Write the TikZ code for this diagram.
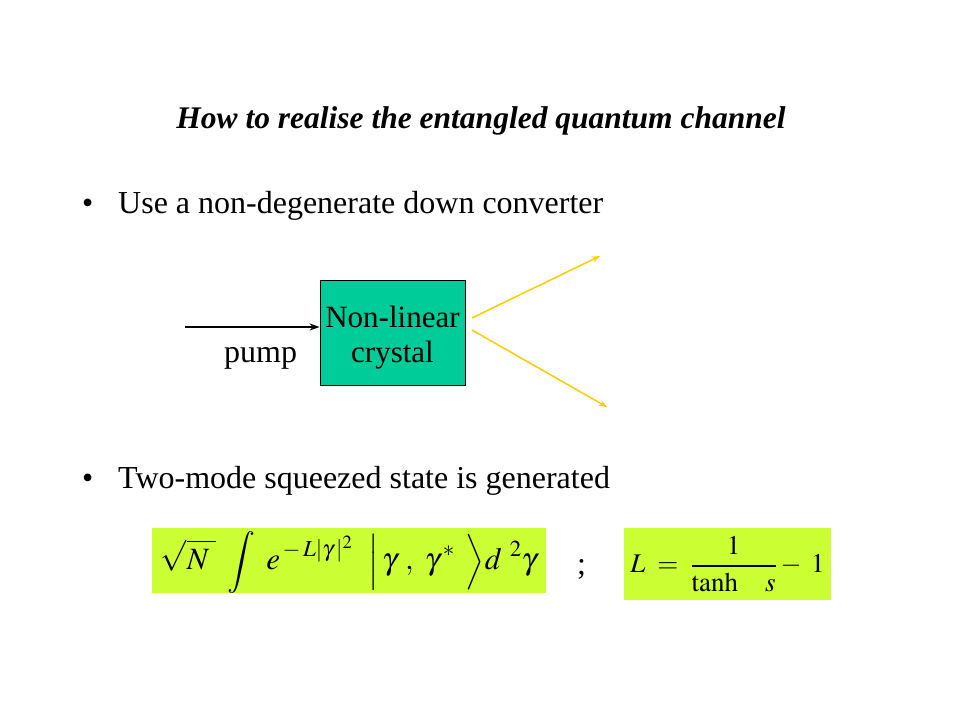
\documentclass[tikz,border=0pt]{standalone}
\usepackage{mathptmx}
\usepackage{fontspec}
\setmainfont{Liberation Serif}
\usetikzlibrary{arrows.meta}
\definecolor{crystal}{RGB}{0,204,153}
\definecolor{beam}{RGB}{255,204,0}
\definecolor{formulabg}{RGB}{204,255,51}
\tikzset{
  body/.style={font=\fontsize{32}{36}\selectfont, inner sep=0pt, anchor=base west},
  crystalbox/.style={draw=black, fill=crystal, line width=0.8pt, minimum width=145pt, minimum height=105pt, inner sep=0pt},
  boxtext/.style={inner sep=0pt, align=center, font=\fontsize{31}{35}\selectfont},
  beamline/.style={draw=beam, line width=1.5pt, -{Stealth[length=8pt,width=6pt]}},
  formula/.style={fill=formulabg, inner sep=0pt},
}
\begin{document}
\begin{tikzpicture}[x=1pt,y=-1pt]
\useasboundingbox (0,0) rectangle (960,720);
\fill[white] (0,0) rectangle (960,720);
\node[inner sep=0pt, anchor=base, font=\fontsize{31.5}{36}\selectfont\bfseries\itshape] (title) at (481,128) {How to realise the entangled quantum channel};
\node[body] (b1) at (82,213) {•};
\node[body] (t1) at (118,213) {Use a non-degenerate down converter};
\node[crystalbox] (box) at (392.5,332.5) {};
\node[boxtext] (boxlabel) at (392.5,337.5) {Non-linear\\ crystal};
\coordinate (pumpstart) at (185,327);
\draw[line width=1.5pt, -{Stealth[length=10pt,width=7pt]}] (pumpstart) -- (box.west |- pumpstart);
\node[body] (pump) at (224,362) {pump};
\coordinate (outa) at (472,318);
\coordinate (outb) at (472,330);
\coordinate (enda) at (600,256);
\coordinate (endb) at (607,407);
\draw[beamline] (outa) -- (enda);
\draw[beamline] (outb) -- (endb);
\node[body] (b2) at (82,488) {•};
\node[body] (t2) at (118,488) {Two-mode squeezed state is generated};
\node[formula, minimum width=394pt, minimum height=65pt] (f1) at (349,560.5) {};
\node[inner sep=0pt, font=\fontsize{31}{35}\selectfont] (f1t) at (349,562) {$\sqrt{\rule{0pt}{0.8em}N\;}\ \displaystyle\int\ e^{\,-\,L|\gamma\,|^{2}}\ \ \Big|\,\gamma\ ,\ \gamma^{\,*}\ \,\Big\rangle d^{\ 2}\gamma$};
\node[body] (semi) at (577,574) {;};
\node[formula, minimum width=207pt, minimum height=72pt] (f2) at (727.5,564) {};
\node[inner sep=0pt, font=\fontsize{27}{31}\selectfont] (f2t) at (f2.center) {$L\;=\;\displaystyle\frac{1}{\mathrm{tanh}\quad s}-\;1$};
\end{tikzpicture}
\end{document}
